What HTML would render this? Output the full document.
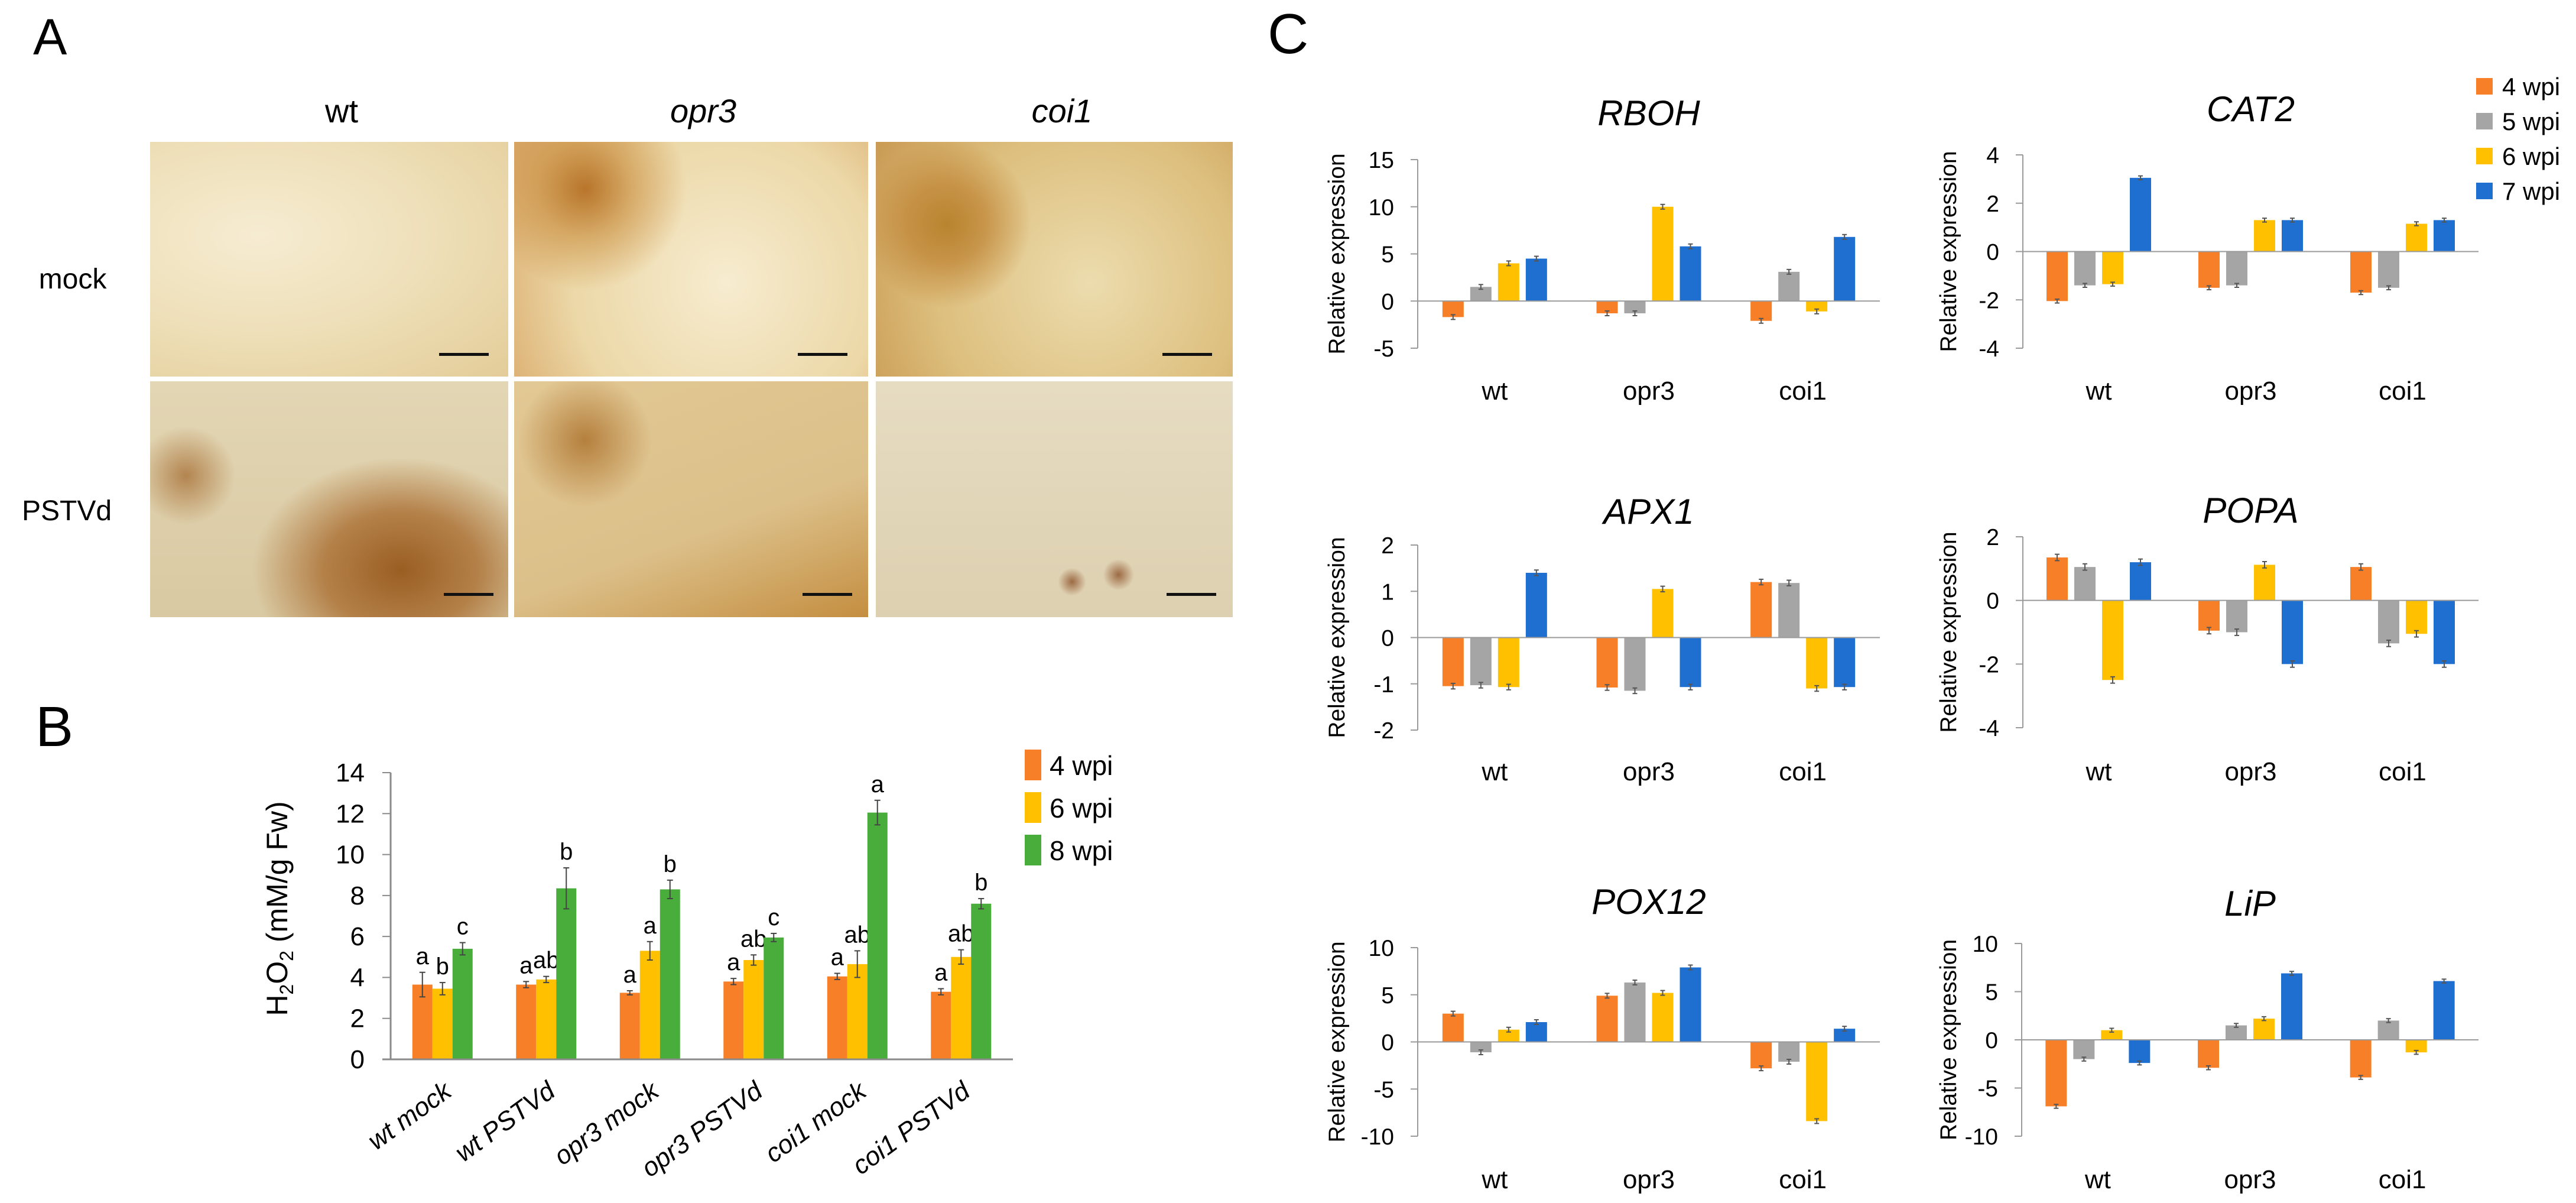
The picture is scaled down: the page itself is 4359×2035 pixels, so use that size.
<!DOCTYPE html>
<html><head><meta charset="utf-8"><style>
html,body{margin:0;padding:0;background:#fff;}
#fig{position:relative;width:4359px;height:2035px;overflow:hidden;font-family:"Liberation Sans",sans-serif;}
.photo{position:absolute;overflow:hidden;}
.sb{position:absolute;height:5px;background:#111;width:84px;}
</style></head><body>
<div id="fig">
<!-- Panel A photos -->
<div class="photo" style="left:254px;top:240px;width:606px;height:397px;background:radial-gradient(ellipse at 30% 40%,#f6ecd2 0%,#eedfb8 50%,#e3cc98 100%);"><div class="sb" style="left:489px;top:357px"></div></div>
<div class="photo" style="left:870px;top:240px;width:599px;height:397px;background:radial-gradient(circle at 20% 20%,#b8752a 0%,rgba(200,140,60,0.6) 14%,rgba(0,0,0,0) 30%),radial-gradient(circle at 60% 60%,#f7ecd0 0%,#ecd8a8 60%,#d9a868 100%);"><div class="sb" style="left:480px;top:357px"></div></div>
<div class="photo" style="left:1482px;top:240px;width:604px;height:397px;background:radial-gradient(circle at 20% 35%,#b8842e 0%,rgba(190,130,50,0.7) 12%,rgba(0,0,0,0) 26%),radial-gradient(circle at 60% 60%,#ecdcae 0%,#ddbf7e 60%,#c99a52 100%);"><div class="sb" style="left:485px;top:357px"></div></div>
<div class="photo" style="left:254px;top:645px;width:606px;height:399px;background:radial-gradient(ellipse at 70% 80%,#9a5e22 0%,rgba(170,110,50,0.8) 22%,rgba(0,0,0,0) 42%),radial-gradient(circle at 10% 40%,rgba(160,100,40,0.7) 0%,rgba(0,0,0,0) 14%),linear-gradient(#e3d6b4,#d9c9a2);"><div class="sb" style="left:497px;top:358px"></div></div>
<div class="photo" style="left:870px;top:645px;width:599px;height:399px;background:radial-gradient(circle at 20% 25%,rgba(170,110,40,0.8) 0%,rgba(0,0,0,0) 20%),linear-gradient(160deg,#e2c894,#dcc08a 60%,#c48e40);"><div class="sb" style="left:488px;top:358px"></div></div>
<div class="photo" style="left:1482px;top:645px;width:604px;height:399px;background:radial-gradient(circle at 55% 85%,rgba(140,80,40,0.8) 0%,rgba(0,0,0,0) 5%),radial-gradient(circle at 68% 82%,rgba(140,80,40,0.8) 0%,rgba(0,0,0,0) 5%),linear-gradient(#e6dcc2,#ddd0b0);"><div class="sb" style="left:492px;top:358px"></div></div>

<svg id="svg" width="4359" height="2035" style="position:absolute;left:0;top:0" xmlns="http://www.w3.org/2000/svg" font-family="Liberation Sans, sans-serif">
<text x="56" y="92" font-size="86">A</text>
<text x="60" y="1262" font-size="96">B</text>
<text x="2145" y="90" font-size="96">C</text>
<text x="578" y="207" font-size="56" text-anchor="middle">wt</text>
<text x="1190" y="207" font-size="56" font-style="italic" text-anchor="middle">opr3</text>
<text x="1797" y="207" font-size="56" font-style="italic" text-anchor="middle">coi1</text>
<text x="123" y="488" font-size="48" text-anchor="middle">mock</text>
<text x="113" y="880" font-size="48" text-anchor="middle">PSTVd</text>
<g id="gB"></g>
<g id="gC"></g>
</svg>
</div>
<script>
// ---------- Panel B data ----------
const bCategories = ["wt mock","wt PSTVd","opr3 mock","opr3 PSTVd","coi1 mock","coi1 PSTVd"];
const bSeriesNames = ["4 wpi","6 wpi","8 wpi"];
const b4wpi = [3.65,3.65,3.25,3.8,4.05,3.3];
const b6wpi = [3.45,3.9,5.3,4.85,4.65,5.0];
const b8wpi = [5.4,8.35,8.3,5.95,12.05,7.6];
const b4err = [0.6,0.15,0.1,0.15,0.15,0.15];
const b6err = [0.3,0.15,0.45,0.25,0.65,0.35];
const b8err = [0.3,1.0,0.45,0.2,0.6,0.25];
const b4letters = ["a","a","a","a","a","a"];
const b6letters = ["b","ab","a","ab","ab","ab"];
const b8letters = ["c","b","b","c","a","b"];
const bTicks = [0,2,4,6,8,10,12,14];

// ---------- Panel C data ----------
const cCategories = ["wt","opr3","coi1"];
const cSeriesNames = ["4 wpi","5 wpi","6 wpi","7 wpi"];
const rboh4 = [-1.7,-1.3,-2.1], rboh5 = [1.5,-1.3,3.1], rboh6 = [4.0,10.0,-1.1], rboh7 = [4.5,5.8,6.8];
const rbohTicks = [-5,0,5,10,15];
const cat2_4 = [-2.05,-1.5,-1.7], cat2_5 = [-1.4,-1.4,-1.5], cat2_6 = [-1.35,1.3,1.15], cat2_7 = [3.05,1.3,1.3];
const cat2Ticks = [-4,-2,0,2,4];
const apx4 = [-1.05,-1.08,1.2], apx5 = [-1.03,-1.15,1.18], apx6 = [-1.07,1.05,-1.1], apx7 = [1.4,-1.07,-1.07];
const apxTicks = [-2,-1,0,1,2];
const popa4 = [1.35,-0.95,1.05], popa5 = [1.05,-1.0,-1.35], popa6 = [-2.5,1.12,-1.05], popa7 = [1.2,-2.0,-2.0];
const popaTicks = [-4,-2,0,2];
const pox4 = [3.0,4.9,-2.8], pox5 = [-1.1,6.3,-2.1], pox6 = [1.3,5.2,-8.4], pox7 = [2.1,7.9,1.4];
const poxTicks = [-10,-5,0,5,10];
const lip4 = [-6.9,-2.9,-3.9], lip5 = [-2.0,1.5,2.0], lip6 = [1.0,2.2,-1.3], lip7 = [-2.4,6.9,6.1];
const lipTicks = [-10,-5,0,5,10];

const NS = "http://www.w3.org/2000/svg";
function mk(parent, tag, attrs, text){
  const e = document.createElementNS(NS, tag);
  for (const k in attrs) e.setAttribute(k, attrs[k]);
  if (text !== undefined) e.textContent = text;
  parent.appendChild(e);
  return e;
}

// ---------- Draw Panel B ----------
(function(){
  const g = document.getElementById('gB');
  const x0 = 661, x1 = 1714, yTop = 1307, yBot = 1792, vmin = 0, vmax = 14;
  const ys = v => yBot - (v - vmin) / (vmax - vmin) * (yBot - yTop);
  const gw = (x1 - x0) / bCategories.length;
  const colors = ["#f77f27","#ffc000","#49ad3b"];
  const vals = [b4wpi,b6wpi,b8wpi], errs = [b4err,b6err,b8err], lets = [b4letters,b6letters,b8letters];
  let ax = mk(g,'line',{x1:x0,y1:yTop,x2:x0,y2:yBot,stroke:'#8a8a8a','stroke-width':3});
   
  bTicks.forEach(t=>{
    mk(g,'line',{x1:x0-14,y1:ys(t),x2:x0,y2:ys(t),stroke:'#8a8a8a','stroke-width':2});
    const tl = mk(g,'text',{x:x0-44,y:ys(t)+15,'font-size':44,'text-anchor':'end'},String(t));
     
  });
  bCategories.forEach((c,i)=>{
    const cx = x0 + gw*(i+0.5);
    vals.forEach((arr,s)=>{
      const bx = cx + (s-1)*34 - 17;
      const r = mk(g,'rect',{x:bx,y:ys(arr[i]),width:34,height:ys(0)-ys(arr[i]),fill:colors[s]});
      
      
      const bc = bx+17, e1 = ys(arr[i]+errs[s][i]), e2 = ys(arr[i]-errs[s][i]);
      mk(g,'line',{x1:bc,y1:e1,x2:bc,y2:e2,stroke:'#444','stroke-width':2});
      mk(g,'line',{x1:bc-5,y1:e1,x2:bc+5,y2:e1,stroke:'#444','stroke-width':2});
      mk(g,'line',{x1:bc-5,y1:e2,x2:bc+5,y2:e2,stroke:'#444','stroke-width':2});
      const lt = mk(g,'text',{x:bc,y:e1-14,'font-size':40,'text-anchor':'middle'},lets[s][i]);
       
    });
    const xl = mk(g,'text',{x:cx+18,y:yBot+60,'font-size':44,'font-style':'italic','text-anchor':'end',transform:`rotate(-36 ${cx+18} ${yBot+60})`},c);
     
  });
  ax = mk(g,'line',{x1:x0-14,y1:yBot,x2:x1,y2:yBot,stroke:'#8a8a8a','stroke-width':3});
   
  const yl = mk(g,'text',{x:0,y:0,'font-size':50,'text-anchor':'middle',transform:'translate(486 1537) rotate(-90)'});
   
  mk(yl,'tspan',{},'H');
  mk(yl,'tspan',{'font-size':32,dy:10},'2');
  mk(yl,'tspan',{dy:-10},'O');
  mk(yl,'tspan',{'font-size':32,dy:10},'2');
  mk(yl,'tspan',{dy:-10},' (mM/g Fw)');
  bSeriesNames.forEach((n,s)=>{
    const ly = 1294 + s*72;
    const sq = mk(g,'rect',{x:1734,y:ly-26,width:28,height:52,fill:colors[s]});
     
    const lt = mk(g,'text',{x:1776,y:ly+17,'font-size':46},n);
     
  });
})();

// ---------- Draw Panel C ----------
const cColors = ["#f77f27","#a5a5a5","#ffc000","#1f6fd1"];
function drawC(name, series, errs, ticks, x0, x1, yTop, yBot, titleY, labY, ylabX){
  const g = document.getElementById('gC');
  const vmin = ticks[0], vmax = ticks[ticks.length-1];
  const ys = v => yBot - (v - vmin)/(vmax - vmin)*(yBot - yTop);
  const gw = (x1-x0)/cCategories.length;
  const t = mk(g,'text',{x:(x0+x1)/2,y:titleY,'font-size':60,'font-style':'italic','text-anchor':'middle'},name);
   
  let ax = mk(g,'line',{x1:x0,y1:yTop,x2:x0,y2:yBot,stroke:'#9a9a9a','stroke-width':2});
   
  ticks.forEach(v=>{
    mk(g,'line',{x1:x0-12,y1:ys(v),x2:x0,y2:ys(v),stroke:'#9a9a9a','stroke-width':2});
    const tl = mk(g,'text',{x:x0-40,y:ys(v)+14,'font-size':39,'text-anchor':'end'},String(v));
     
  });
  cCategories.forEach((c,i)=>{
    const cx = x0 + gw*(i+0.5);
    series.forEach((arr,s)=>{
      const bc = cx + (s-1.5)*47, v = arr[i];
      const top = Math.min(ys(v),ys(0)), h = Math.abs(ys(v)-ys(0));
      const r = mk(g,'rect',{x:bc-18,y:top,width:36,height:h,fill:cColors[s]});
      
      
      const e = errs;
      const e1 = ys(v+e), e2 = ys(v-e);
      mk(g,'line',{x1:bc,y1:e1,x2:bc,y2:e2,stroke:'#555','stroke-width':2});
      mk(g,'line',{x1:bc-4,y1:e1,x2:bc+4,y2:e1,stroke:'#555','stroke-width':2});
      mk(g,'line',{x1:bc-4,y1:e2,x2:bc+4,y2:e2,stroke:'#555','stroke-width':2});
    });
    const cl = mk(g,'text',{x:cx,y:labY,'font-size':44,'text-anchor':'middle'},c);
     
  });
  ax = mk(g,'line',{x1:x0,y1:ys(0),x2:x1,y2:ys(0),stroke:'#9a9a9a','stroke-width':2});
   
  const yl = mk(g,'text',{x:0,y:0,'font-size':39,'text-anchor':'middle',transform:`translate(${ylabX} ${(yTop+yBot)/2}) rotate(-90)`},'Relative expression');
   
}
drawC("RBOH",[rboh4,rboh5,rboh6,rboh7],0.25,rbohTicks,2399,3181,270,589,212,676,2275);
drawC("CAT2",[cat2_4,cat2_5,cat2_6,cat2_7],0.08,cat2Ticks,3423,4194,262,589,205,676,3310);
drawC("APX1",[apx4,apx5,apx6,apx7],0.06,apxTicks,2399,3181,922,1235,886,1320,2275);
drawC("POPA",[popa4,popa5,popa6,popa7],0.1,popaTicks,3423,4194,908,1231,884,1320,3310);
drawC("POX12",[pox4,pox5,pox6,pox7],0.25,poxTicks,2399,3181,1603,1922,1546,2010,2275);
drawC("LiP",[lip4,lip5,lip6,lip7],0.2,lipTicks,3421,4194,1596,1922,1549,2010,3310);

// legend C
(function(){
  const g = document.getElementById('gC');
  cSeriesNames.forEach((n,s)=>{
    const ly = 146 + s*59;
    const sq = mk(g,'rect',{x:4190,y:ly-14,width:28,height:28,fill:cColors[s]});
     
    const lt = mk(g,'text',{x:4234,y:ly+15,'font-size':42},n);
     
  });
})();
</script>
</body></html>
